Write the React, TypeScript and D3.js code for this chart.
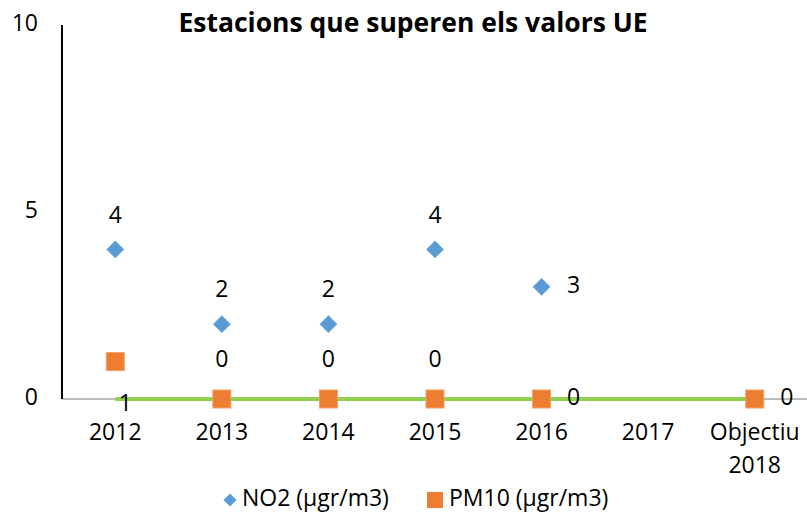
import React from 'react';
import * as d3 from 'd3';

// Chart data
const categories = ['2012', '2013', '2014', '2015', '2016', '2017', 'Objectiu 2018'];
const no2Values: (number | null)[] = [4, 2, 2, 4, 3, null, null];
const pm10Values: (number | null)[] = [1, 0, 0, 0, 0, null, 0];
const targetValues: number[] = [0, 0, 0, 0, 0, 0, 0];
const no2LabelPos = ['top', 'top', 'top', 'top', 'right', 'top', 'top'];
const pm10LabelPos = ['bottom', 'top', 'top', 'top', 'right', 'top', 'right'];
const yTicks = [0, 5, 10];

const W = 807;
const H = 516;
const margin = { top: 25, right: -1, bottom: 117, left: 62 };
const FONT = "'Open Sans', sans-serif";
const FS = 23;

const BLUE = '#5B9BD5';
const ORANGE = '#ED7D31';
const GREEN = '#92D050';

export default function App() {
  const innerW = W - margin.left - margin.right;
  const innerH = H - margin.top - margin.bottom;

  const x = d3.scaleBand().domain(categories).range([0, innerW]);
  const y = d3.scaleLinear().domain([0, 10]).range([innerH, 0]);
  const cx = (c: string) => (x(c) ?? 0) + x.bandwidth() / 2;

  const line = d3
    .line<number>()
    .x((_, i) => cx(categories[i]))
    .y(d => y(d));

  const diamond = d3.symbol().type(d3.symbolDiamond2).size(190)();

  const labelOffset = (pos: string, aboveDy: number, belowDy: number) => {
    if (pos === 'right') return { dx: 32, dy: 0 };
    if (pos === 'bottom') return { dx: 10, dy: belowDy };
    return { dx: 0, dy: aboveDy };
  };

  return (
    <svg
      width={W}
      height={H}
      style={{ position: 'absolute', left: 0, top: 0, background: '#fff' }}
      fontFamily={FONT}
    >
      <text x={413} y={25} textAnchor="middle" dominantBaseline="middle" fontSize={26.5} fontWeight={700} fill="#000">
        Estacions que superen els valors UE
      </text>
      <g transform={`translate(${margin.left},${margin.top})`}>
        {/* y tick labels */}
        {yTicks.map(t => (
          <text key={t} x={-24} y={y(t)} textAnchor="end" dominantBaseline="middle" fontSize={FS} fill="#000">
            {t}
          </text>
        ))}
        {/* x axis */}
        <line x1={0} x2={innerW} y1={innerH} y2={innerH} stroke="#A6A6A6" strokeWidth={1.5} />
        {/* target line */}
        <path d={line(targetValues) ?? ''} fill="none" stroke={GREEN} strokeWidth={4} />
        {/* y axis */}
        <line x1={0} x2={0} y1={0} y2={innerH} stroke="#000" strokeWidth={2} />
        {/* x tick labels */}
        {categories.map(c => {
          const parts = c === 'Objectiu 2018' ? ['Objectiu', '2018'] : [c];
          return (
            <text key={c} x={cx(c)} y={innerH + 35} textAnchor="middle" dominantBaseline="middle" fontSize={FS} fill="#000">
              {parts.map((p, i) => (
                <tspan key={i} x={cx(c)} dy={i === 0 ? 0 : 33}>
                  {p}
                </tspan>
              ))}
            </text>
          );
        })}
        {/* NO2 markers */}
        {no2Values.map((v, i) =>
          v === null ? null : (
            <g key={'n' + i}>
              <path d={diamond ?? ''} transform={`translate(${cx(categories[i])},${y(v)})`} fill={BLUE} stroke="#6FA8DC" strokeWidth={0.5} />
              {(() => {
                const o = labelOffset(no2LabelPos[i], -33, 30);
                return (
                  <text x={cx(categories[i]) + o.dx} y={y(v) + o.dy} textAnchor="middle" dominantBaseline="middle" fontSize={FS} fill="#000">
                    {v}
                  </text>
                );
              })()}
            </g>
          )
        )}
        {/* PM10 markers */}
        {pm10Values.map((v, i) =>
          v === null ? null : (
            <g key={'p' + i}>
              <rect
                x={cx(categories[i]) - 9}
                y={y(v) - 9}
                width={18}
                height={18}
                fill={ORANGE}
                stroke="#F4A06A"
                strokeWidth={1}
              />
              {(() => {
                const o = labelOffset(pm10LabelPos[i], -38, 43);
                return (
                  <text x={cx(categories[i]) + o.dx} y={y(v) + o.dy} textAnchor="middle" dominantBaseline="middle" fontSize={FS} fill="#000">
                    {v}
                  </text>
                );
              })()}
            </g>
          )
        )}
      </g>
      {/* legend */}
      <g transform="translate(0,500)">
        <path d={d3.symbol().type(d3.symbolDiamond2).size(110)() ?? ''} transform="translate(230,0)" fill={BLUE} />
        <text x={242} y={0} dominantBaseline="middle" fontSize={FS} fill="#000">
          NO2 (µgr/m3)
        </text>
        <rect x={427} y={-8} width={16} height={16} fill={ORANGE} />
        <text x={449} y={0} dominantBaseline="middle" fontSize={FS} fill="#000">
          PM10 (µgr/m3)
        </text>
      </g>
    </svg>
  );
}
